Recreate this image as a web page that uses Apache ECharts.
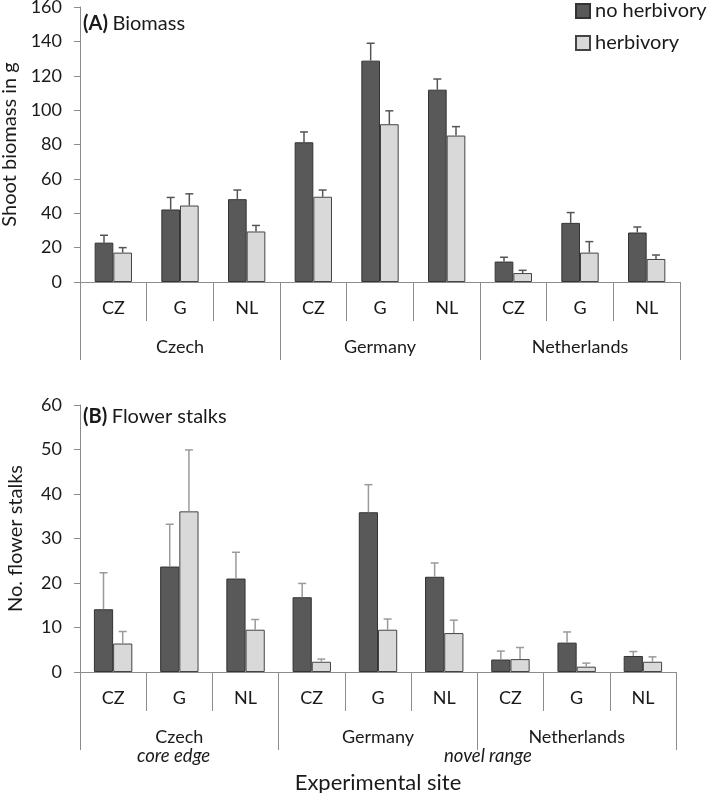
<!DOCTYPE html>
<html>
<head>
<meta charset="utf-8">
<script src="https://cdn.jsdelivr.net/npm/echarts@6/dist/echarts.min.js"></script>
<style>
html,body{margin:0;padding:0;background:#fff;}
#chart{width:708px;height:793px;}
</style>
</head>
<body>
<div id="chart"></div>
<script>
var categories = ['CZ','G','NL','CZ','G','NL','CZ','G','NL'];
var groups = ['Czech','Germany','Netherlands'];
var seriesNames = ['no herbivory','herbivory'];
var biomassTicks = [0,20,40,60,80,100,120,140,160];
var stalksTicks = [0,10,20,30,40,50,60];

var biomassNo      = [22.9, 42.2, 48.2, 81.3, 128.8, 111.9, 11.9, 34.4, 28.8];
var biomassNoErr   = [4.3, 7.0, 5.3, 6.0, 10.1, 6.2, 2.5, 6.0, 3.2];
var biomassHerb    = [17.1, 44.5, 29.4, 49.6, 91.8, 85.2, 5.2, 17.1, 13.4];
var biomassHerbErr = [2.9, 6.8, 3.5, 3.9, 7.8, 5.2, 1.6, 6.4, 2.3];

var stalksNo      = [14.1, 23.7, 21.0, 16.8, 35.9, 21.4, 2.8, 6.6, 3.6];
var stalksNoErr   = [8.2, 9.5, 5.9, 3.1, 6.2, 3.1, 1.9, 2.4, 1.0];
var stalksHerb    = [6.4, 36.1, 9.5, 2.3, 9.5, 8.75, 2.9, 1.2, 2.3];
var stalksHerbErr = [2.7, 13.8, 2.3, 0.6, 2.4, 2.9, 2.6, 0.8, 1.1];

var FONT = 'Lato';
var TXT = '#1a1a1a';
var AXC = '#8c8c8c';
var DARK = '#595959';
var LIGHT = '#d9d9d9';

function errData(vals, errs) {
  return vals.map(function (v, i) { return [i, v, v + errs[i]]; });
}

function makeErr(sign, gap, color) {
  return function (params, api) {
    var i = api.value(0);
    var c = api.coord([i, api.value(1)]);
    var t = api.coord([i, api.value(2)]);
    var bw = api.size([1, 0])[0];
    var x = c[0] + sign * bw * (1 - gap) / 4;
    return {
      type: 'group',
      children: [
        {type: 'line', shape: {x1: x, y1: c[1], x2: x, y2: t[1]}, style: {stroke: color, lineWidth: 1.5}},
        {type: 'line', shape: {x1: x - 4, y1: t[1], x2: x + 4, y2: t[1]}, style: {stroke: color, lineWidth: 1.5}}
      ]
    };
  };
}

function xAxes(gridIndex, withName) {
  var inner = {
    type: 'category', gridIndex: gridIndex, data: categories, position: 'bottom',
    axisLine: {show: true, lineStyle: {color: AXC, width: 1}},
    axisTick: {show: true, interval: 0, length: 39, lineStyle: {color: AXC}},
    axisLabel: {interval: 0, margin: 17, fontFamily: FONT, fontSize: 18, color: TXT}
  };
  var outer = {
    type: 'category', gridIndex: gridIndex, data: groups, position: 'bottom',
    axisLine: {show: false},
    axisTick: {show: true, interval: 0, length: 78, lineStyle: {color: AXC}},
    axisLabel: {interval: 0, margin: 56, fontFamily: FONT, fontSize: 18, color: TXT}
  };
  if (withName) {
    outer.name = 'Experimental site';
    outer.nameLocation = 'middle';
    outer.nameGap = 100;
    outer.nameTextStyle = {fontFamily: FONT, fontSize: 22, color: TXT};
  }
  return [inner, outer];
}

function yAxis(gridIndex, ticks, name, gap) {
  return {
    type: 'value', gridIndex: gridIndex,
    min: ticks[0], max: ticks[ticks.length - 1], interval: ticks[1] - ticks[0],
    name: name, nameLocation: 'middle', nameGap: gap,
    nameTextStyle: {fontFamily: FONT, fontSize: 20, color: TXT},
    axisLine: {show: true, lineStyle: {color: AXC, width: 1}},
    axisTick: {show: true, length: 6, lineStyle: {color: AXC}},
    splitLine: {show: false},
    axisLabel: {margin: 18, fontFamily: FONT, fontSize: 18, color: TXT}
  };
}

var gapTop = 0.44, gapBot = 0.42;
var xs = xAxes(0, false).concat(xAxes(1, true));
var titleRich = {
  b: {fontFamily: FONT, fontSize: 20, fontWeight: 'bold', color: TXT},
  n: {fontFamily: FONT, fontSize: 20, fontWeight: 'normal', color: TXT}
};

var option = {
  animation: false,
  backgroundColor: '#fff',
  textStyle: {fontFamily: FONT},
  title: [
    {text: '{b|(A)} {n|Biomass}', left: 83, top: 14, padding: 0,
     textStyle: {fontWeight: 'normal', rich: titleRich}},
    {text: '{b|(B)} {n|Flower stalks}', left: 83, top: 407, padding: 0,
     textStyle: {fontWeight: 'normal', rich: titleRich}}
  ],
  legend: {
    data: seriesNames, orient: 'vertical', left: 575, top: 1, padding: 0,
    icon: 'rect', itemWidth: 14, itemHeight: 14, itemGap: 12,
    textStyle: {fontFamily: FONT, fontSize: 20, color: TXT, lineHeight: 20}
  },
  grid: [
    {left: 80, top: 7, width: 600, height: 275, outerBoundsMode: 'none', containLabel: false},
    {left: 80, top: 405, width: 596, height: 267, outerBoundsMode: 'none', containLabel: false}
  ],
  xAxis: xs,
  yAxis: [
    yAxis(0, biomassTicks, 'Shoot biomass in g', 58),
    yAxis(1, stalksTicks, 'No. flower stalks', 54)
  ],
  graphic: [
    {type: 'text', left: 137, top: 747, style: {text: 'core edge', fontFamily: FONT, fontSize: 18.5, fontStyle: 'italic', fill: TXT}},
    {type: 'text', left: 444, top: 747, style: {text: 'novel range', fontFamily: FONT, fontSize: 18.5, fontStyle: 'italic', fill: TXT}}
  ],
  series: [
    {name: seriesNames[0], type: 'bar', xAxisIndex: 0, yAxisIndex: 0, data: biomassNo, barGap: '0%', barCategoryGap: (gapTop * 100) + '%',
     itemStyle: {color: DARK, borderColor: '#333', borderWidth: 1}},
    {name: seriesNames[1], type: 'bar', xAxisIndex: 0, yAxisIndex: 0, data: biomassHerb, barGap: '0%', barCategoryGap: (gapTop * 100) + '%',
     itemStyle: {color: LIGHT, borderColor: '#444', borderWidth: 1}},
    {name: seriesNames[0], type: 'bar', xAxisIndex: 2, yAxisIndex: 1, data: stalksNo, barGap: '0%', barCategoryGap: (gapBot * 100) + '%',
     itemStyle: {color: DARK, borderColor: '#333', borderWidth: 1}},
    {name: seriesNames[1], type: 'bar', xAxisIndex: 2, yAxisIndex: 1, data: stalksHerb, barGap: '0%', barCategoryGap: (gapBot * 100) + '%',
     itemStyle: {color: LIGHT, borderColor: '#444', borderWidth: 1}},
    {type: 'custom', xAxisIndex: 0, yAxisIndex: 0, z: 5, data: errData(biomassNo, biomassNoErr), renderItem: makeErr(-1, gapTop, '#555'), encode: {x: 0, y: [1, 2]}},
    {type: 'custom', xAxisIndex: 0, yAxisIndex: 0, z: 5, data: errData(biomassHerb, biomassHerbErr), renderItem: makeErr(1, gapTop, '#555'), encode: {x: 0, y: [1, 2]}},
    {type: 'custom', xAxisIndex: 2, yAxisIndex: 1, z: 5, data: errData(stalksNo, stalksNoErr), renderItem: makeErr(-1, gapBot, '#9a9a9a'), encode: {x: 0, y: [1, 2]}},
    {type: 'custom', xAxisIndex: 2, yAxisIndex: 1, z: 5, data: errData(stalksHerb, stalksHerbErr), renderItem: makeErr(1, gapBot, '#9a9a9a'), encode: {x: 0, y: [1, 2]}}
  ]
};

var chart = echarts.init(document.getElementById('chart'), null, {renderer: 'canvas'});
chart.setOption(option);
</script>
</body>
</html>
